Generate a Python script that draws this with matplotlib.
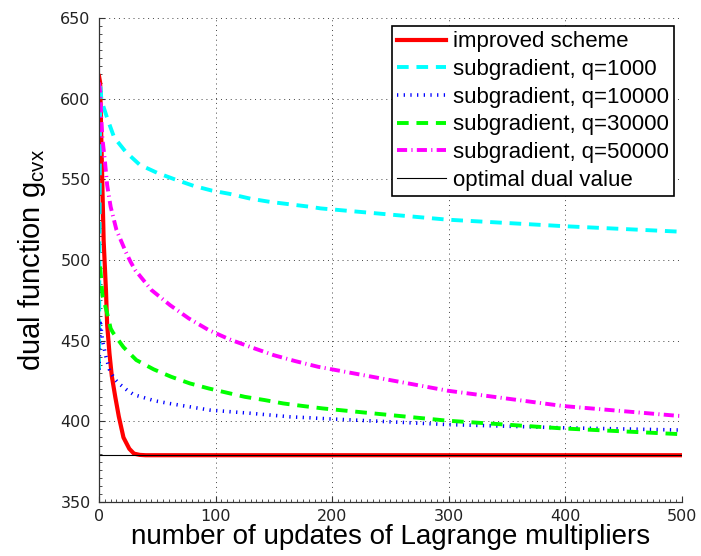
import matplotlib
matplotlib.use('Agg')
from matplotlib import pyplot as plt
from matplotlib.ticker import MultipleLocator

# values
red_it = [0, 1, 2, 3, 4, 6, 7, 9, 11, 14, 17, 21, 26, 30, 35, 40, 500]
red_val = [614, 610, 575, 543, 512, 481, 460, 442, 428, 415, 403, 390, 383, 380, 379.2, 379, 379]

cyan_it = [0, 1, 2, 3, 7, 13, 23, 35, 50, 65, 81, 97, 112, 130, 147, 164, 181, 190, 299, 398, 500]
cyan_val = [432, 610, 600, 597, 588, 576, 567, 559, 554, 550, 546, 543, 541, 538, 536, 534.5, 533, 532, 525, 521, 517.5]

blue_it = [0, 1, 3, 6, 9, 13, 17, 24, 30, 48, 61, 78, 95, 112, 130, 147, 164, 181, 190, 299, 398, 500]
blue_val = [432, 463, 450, 440, 432, 426.6, 423.5, 419.4, 416.5, 412.7, 411, 409, 407, 406, 405, 403.9, 402.8, 402.2, 401.8, 398, 396, 394.6]

green_it = [1, 3, 7, 10, 12, 21, 32, 47, 62, 78, 94, 110, 125, 142, 158, 175, 192, 299, 398, 500]
green_val = [496, 478, 467, 457.6, 455, 446, 438, 432.2, 427.6, 423.5, 420.4, 417.7, 415.2, 413.2, 411.1, 409.5, 408, 400.4, 395.6, 392]

mag_it = [0, 1, 2, 3, 5, 7, 10, 15, 23, 27, 31, 45, 61, 77, 94, 112, 131, 150, 168, 188, 299, 398, 495, 500]
mag_val = [610, 604, 587, 575, 562, 546.5, 533, 518.6, 505, 499, 493.8, 481.4, 472, 463.8, 456.6, 450.8, 445.8, 441, 437.4, 433.8, 419, 409.5, 403.5, 403.3]

opt_it = [0, 500]
opt_val = [379, 379]

labels = ['improved scheme', 'subgradient, q=1000', 'subgradient, q=10000',
          'subgradient, q=30000', 'subgradient, q=50000', 'optimal dual value']

plt.rcParams['font.family'] = ['Liberation Sans', 'DejaVu Sans']

fig = plt.figure(figsize=(7.01, 5.56), dpi=100)
ax = fig.add_axes([0.1412, 0.0971, 0.8317, 0.8705])

ax.plot(red_it, red_val, color='red', lw=3, label=labels[0])
ax.plot(cyan_it, cyan_val, color='cyan', lw=2.8, dashes=(3.0, 2.0), label=labels[1])
ax.plot(blue_it, blue_val, color='blue', lw=2.6, dashes=(0.35, 1.5), label=labels[2])
ax.plot(green_it, green_val, color='lime', lw=2.8, dashes=(3.0, 2.0), label=labels[3])
ax.plot(mag_it, mag_val, color='magenta', lw=2.8, dashes=(2.6, 1.1, 0.3, 1.1), label=labels[4])
ax.plot(opt_it, opt_val, color='black', lw=0.8, label=labels[5])

ax.set_xlim(0, 500)
ax.set_ylim(350, 650)
ax.xaxis.set_major_locator(MultipleLocator(100))
ax.yaxis.set_major_locator(MultipleLocator(50))
ax.xaxis.set_minor_locator(MultipleLocator(5))
ax.yaxis.set_minor_locator(MultipleLocator(5))

ax.spines['top'].set_visible(False)
ax.spines['right'].set_visible(False)
for s in ['left', 'bottom']:
    ax.spines[s].set_color('#333333')
    ax.spines[s].set_linewidth(0.9)

ax.tick_params(which='major', direction='in', length=4, width=0.8, color='#333333')
ax.tick_params(which='minor', direction='in', length=2, width=0.6, color='#333333')
ax.tick_params(axis='y', pad=6)
ax.tick_params(axis='x', pad=5)
for lab in ax.get_xticklabels() + ax.get_yticklabels():
    lab.set_family('DejaVu Sans')
    lab.set_fontsize(11.5)
    lab.set_color('#222222')

ax.grid(True, which='major', color='#444444', lw=0.7, linestyle=(0, (1, 4)))

ax.set_xlabel('number of updates of Lagrange multipliers', fontsize=20, labelpad=0)
ax.set_ylabel('dual function g$_\\mathregular{cvx}$', fontsize=21, labelpad=9)

leg = ax.legend(loc='upper right', fontsize=16, frameon=True, fancybox=False,
                edgecolor='black', framealpha=1, borderaxespad=0.35,
                borderpad=0.25, labelspacing=0.3, handlelength=2.2, handletextpad=0.3)
leg.get_frame().set_linewidth(1.2)

fig.savefig('out.png', dpi=100)
